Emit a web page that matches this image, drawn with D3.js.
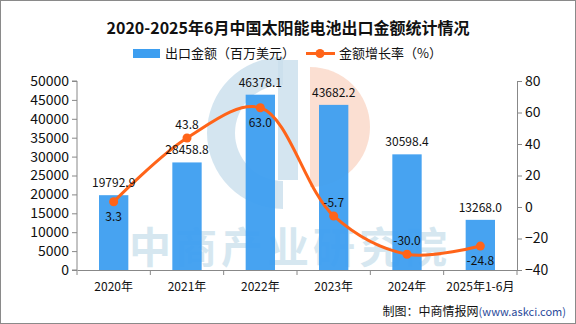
<!DOCTYPE html>
<html>
<head>
<meta charset="utf-8">
<script src="https://cdn.jsdelivr.net/npm/d3@7"></script>
<style>
  body { margin: 0; background: #fff; }
  svg { display: block; font-family: "Noto Sans CJK SC", sans-serif; }
</style>
</head>
<body>
<div class="chart"></div>
<script>
// data
const years = ["2020年", "2021年", "2022年", "2023年", "2024年", "2025年1-6月"];
const amount = [19792.9, 28458.8, 46378.1, 43682.2, 30598.4, 13268.0];
const growth = [3.3, 43.8, 63.0, -5.7, -30.0, -24.8];
const leftTicks = [0, 5000, 10000, 15000, 20000, 25000, 30000, 35000, 40000, 45000, 50000];
const rightTicks = [-40, -20, 0, 20, 40, 60, 80];
// where the growth label sits relative to its point
const growthLabelBelow = [true, false, true, false, false, true];

const W = 576, H = 324;
const margin = {top: 81, left: 77, right: 59, bottom: 54};
const barColor = "#3d9ef0";
const lineColor = "#ff6419";

const svg = d3.select(".chart")
    .append("svg")
    .attr("width", W)
    .attr("height", H);

svg.append("rect")
    .attr("x", 0.5).attr("y", 0.5)
    .attr("width", W - 1).attr("height", H - 1)
    .attr("fill", "#fff")
    .attr("stroke", "#8a8a8a");

const xScale = d3.scaleBand()
    .domain(years)
    .range([margin.left, W - margin.right])
    .paddingInner(0.6)
    .paddingOuter(0.3);

const yLeft = d3.scaleLinear()
    .domain([0, 50000])
    .range([H - margin.bottom, margin.top]);

const yRight = d3.scaleLinear()
    .domain([-40, 80])
    .range([H - margin.bottom, margin.top]);

// watermark (logo + text)
const wm = svg.append("g").attr("class", "watermark");
wm.append("path")
    .attr("d", d3.arc()({innerRadius: 48, outerRadius: 76, startAngle: Math.PI, endAngle: 2 * Math.PI}))
    .attr("transform", "translate(283,133)")
    .attr("fill", "#c9dfec").attr("opacity", 0.8);
wm.append("rect")
    .attr("x", 278).attr("y", 60).attr("width", 20).attr("height", 120)
    .attr("fill", "#c9dfec").attr("opacity", 0.8);
wm.append("path")
    .attr("d", d3.arc()({innerRadius: 0, outerRadius: 60, startAngle: 0, endAngle: Math.PI}))
    .attr("transform", "translate(310,127)")
    .attr("fill", "#fbdccd").attr("opacity", 0.9);
wm.append("text")
    .attr("x", 290).attr("y", 263)
    .attr("text-anchor", "middle")
    .attr("font-size", 42)
    .attr("font-weight", 700)
    .attr("letter-spacing", 4)
    .attr("fill", "#c9dfec")
    .attr("opacity", 0.75)
    .text("中商产业研究院");

// bars
svg.append("g").selectAll("rect")
    .data(amount)
    .join("rect")
    .attr("x", (d, i) => xScale(years[i]))
    .attr("y", d => yLeft(d))
    .attr("width", xScale.bandwidth())
    .attr("height", d => yLeft(0) - yLeft(d))
    .attr("fill", barColor)
    .attr("opacity", 0.95);

// axes
const axisColor = "#888";
const gl = svg.append("g")
    .attr("transform", `translate(${margin.left},0)`)
    .call(d3.axisLeft(yLeft).tickValues(leftTicks).tickSize(5).tickPadding(3).tickFormat(d3.format("d")));
const gr = svg.append("g")
    .attr("transform", `translate(${W - margin.right},0)`)
    .call(d3.axisRight(yRight).tickValues(rightTicks).tickSize(5).tickPadding(3).tickFormat(d => d < 0 ? "−" + Math.abs(d) : d));
const gx = svg.append("g")
    .attr("transform", `translate(0,${H - margin.bottom})`)
    .call(d3.axisBottom(xScale).tickSize(0).tickPadding(12));

[gl, gr, gx].forEach(g => {
    g.selectAll("path, line").attr("stroke", axisColor);
    g.selectAll("text").attr("fill", "#111").attr("font-family", "'Noto Sans CJK SC', sans-serif");
});
gl.selectAll("text").attr("font-size", 14);
gr.selectAll("text").attr("font-size", 14);
gx.selectAll("text").attr("font-size", 12);
gl.select(".domain").attr("d", `M-5,${yLeft(50000)}H0V${yLeft(0)}H-5`);

// x axis ticks at band boundaries
const bounds = years.map(d => xScale(d) - xScale.step() * xScale.paddingInner() / 2);
bounds.push(W - margin.right);
gx.selectAll(".bound")
    .data(bounds)
    .join("line")
    .attr("class", "bound")
    .attr("x1", d => d).attr("x2", d => d)
    .attr("y1", 0).attr("y2", 5)
    .attr("stroke", axisColor);

// growth line
const cx = (d, i) => xScale(years[i]) + xScale.bandwidth() / 2;
const line = d3.line()
    .x(cx)
    .y(d => yRight(d))
    .curve(d3.curveCatmullRom.alpha(0.5));

svg.append("path")
    .datum(growth)
    .attr("d", line)
    .attr("fill", "none")
    .attr("stroke", lineColor)
    .attr("stroke-width", 3);

svg.append("g").selectAll("circle")
    .data(growth)
    .join("circle")
    .attr("cx", cx)
    .attr("cy", d => yRight(d))
    .attr("r", 4.5)
    .attr("fill", lineColor);

// labels
const labelFont = 12;
svg.append("g").selectAll("text")
    .data(amount)
    .join("text")
    .attr("x", cx)
    .attr("y", d => yLeft(d) - 8)
    .attr("text-anchor", "middle")
    .attr("font-size", labelFont)
    .attr("fill", "#111")
    .text(d => d.toFixed(1));

svg.append("g").selectAll("text")
    .data(growth)
    .join("text")
    .attr("x", cx)
    .attr("y", (d, i) => yRight(d) + (growthLabelBelow[i] ? 19 : -9))
    .attr("text-anchor", "middle")
    .attr("font-size", labelFont)
    .attr("fill", "#111")
    .text(d => d.toFixed(1));

// title
svg.append("text")
    .attr("x", 288).attr("y", 34)
    .attr("text-anchor", "middle")
    .attr("font-size", 16)
    .attr("font-weight", 700)
    .attr("fill", "#111")
    .text("2020-2025年6月中国太阳能电池出口金额统计情况");

// legend
const lg = svg.append("g").attr("font-size", 13).attr("fill", "#111");
lg.append("rect").attr("x", 133).attr("y", 49).attr("width", 27).attr("height", 9).attr("fill", barColor);
lg.append("text").attr("x", 165).attr("y", 58).text("出口金额（百万美元）");
lg.append("line").attr("x1", 306).attr("x2", 335).attr("y1", 53.5).attr("y2", 53.5)
    .attr("stroke", lineColor).attr("stroke-width", 3);
lg.append("circle").attr("cx", 320).attr("cy", 53.5).attr("r", 4.5).attr("fill", lineColor);
lg.append("text").attr("x", 339).attr("y", 58).text("金额增长率（%）");

// source
const src = svg.append("text")
    .attr("x", 566).attr("y", 316)
    .attr("text-anchor", "end")
    .attr("font-size", 12)
    .attr("fill", "#111");
src.append("tspan").text("制图：中商情报网");
src.append("tspan").attr("font-size", 11).attr("fill", "#2a4a9a").text("(www.askci.com)");
</script>
</body>
</html>
